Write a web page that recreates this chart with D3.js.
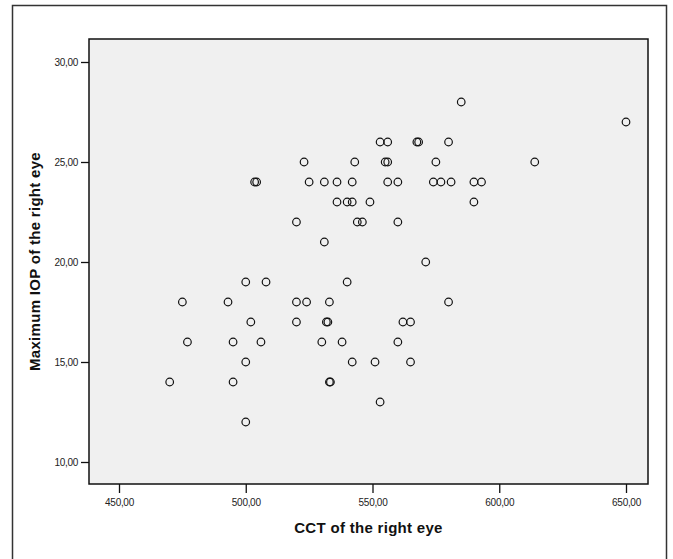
<!DOCTYPE html>
<html>
<head>
<meta charset="utf-8">
<script src="https://cdn.jsdelivr.net/npm/d3@7"></script>
<style>
  body { margin: 0; background: #fff; }
  svg { display: block; }
</style>
</head>
<body>
<svg id="chart" width="673" height="559"></svg>
<script>
// CCT of the right eye (x) and maximum IOP of the right eye (y), one entry per eye
const cctValues = [
  585,
  650,
  553, 556, 567.5, 568.2, 580,
  523, 543, 555, 556, 575, 614,
  503.5, 504.3, 525, 531, 536, 542, 556, 560, 574, 577, 581, 590, 593,
  536, 540, 542, 549, 590,
  520, 544, 546, 560,
  531,
  571,
  500, 508, 540,
  475, 493, 520, 524, 533, 580,
  502, 520, 531.8, 532.4, 562, 565,
  477, 495, 506, 530, 538, 560,
  500, 542, 551, 565,
  470, 495, 533, 533.4,
  553,
  500
];
const iopValues = [
  28,
  27,
  26, 26, 26, 26, 26,
  25, 25, 25, 25, 25, 25,
  24, 24, 24, 24, 24, 24, 24, 24, 24, 24, 24, 24, 24,
  23, 23, 23, 23, 23,
  22, 22, 22, 22,
  21,
  20,
  19, 19, 19,
  18, 18, 18, 18, 18, 18,
  17, 17, 17, 17, 17, 17,
  16, 16, 16, 16, 16, 16,
  15, 15, 15, 15,
  14, 14, 14, 14,
  13,
  12
];
const xTicks = [450, 500, 550, 600, 650];
const yTicks = [10, 15, 20, 25, 30];

const points = cctValues.map((c, i) => ({ cct: c, iop: iopValues[i] }));

const plot = { left: 89, top: 39, right: 648, bottom: 484 };

const svg = d3.select('#chart');

// outer frame
svg.append('rect')
    .attr('x', 12.5)
    .attr('y', 5.5)
    .attr('width', 654)
    .attr('height', 560)
    .attr('fill', 'none')
    .attr('stroke', '#333')
    .attr('stroke-width', 1.5);

let x = d3.scaleLinear().domain([450, 650]).range([119, 626]);
let y = d3.scaleLinear().domain([10, 30]).range([462, 62]);

svg.append('rect')
    .attr('x', plot.left)
    .attr('y', plot.top)
    .attr('width', plot.right - plot.left)
    .attr('height', plot.bottom - plot.top)
    .attr('fill', '#f0f0f0');

const fmt = d => d3.format('.2f')(d).replace('.', ',');

let xAxis = svg.append('g')
    .attr('transform', `translate(0,${plot.bottom})`)
    .call(d3.axisBottom(x).tickValues(xTicks).tickSize(9).tickPadding(6).tickFormat(fmt));

let yAxis = svg.append('g')
    .attr('transform', `translate(${plot.left},0)`)
    .call(d3.axisLeft(y).tickValues(yTicks).tickSize(8).tickPadding(3).tickFormat(fmt));

[xAxis, yAxis].forEach(ax => {
    ax.select('.domain').remove();
    ax.selectAll('.tick line').attr('stroke', '#111').attr('stroke-width', 1.3);
    ax.selectAll('.tick text')
        .attr('fill', '#222')
        .style('font-family', 'Liberation Sans, Arial, sans-serif')
        .style('font-size', '10px')
        .style('letter-spacing', '-0.3px');
});

// plot border on top of the fill
svg.append('rect')
    .attr('x', plot.left)
    .attr('y', plot.top)
    .attr('width', plot.right - plot.left)
    .attr('height', plot.bottom - plot.top)
    .attr('fill', 'none')
    .attr('stroke', '#111')
    .attr('stroke-width', 1.5);

svg.append('g')
    .selectAll('circle')
    .data(points)
    .join('circle')
    .attr('cx', d => x(d.cct))
    .attr('cy', d => y(d.iop))
    .attr('r', 3.8)
    .attr('fill', 'none')
    .attr('stroke', '#111')
    .attr('stroke-width', 1.2);

svg.append('text')
    .attr('x', (plot.left + plot.right) / 2)
    .attr('y', 533)
    .attr('text-anchor', 'middle')
    .style('font-family', 'Liberation Sans, Arial, sans-serif')
    .style('font-size', '15px')
    .style('font-weight', 'bold')
    .style('letter-spacing', '0.3px')
    .attr('fill', '#111')
    .text('CCT of the right eye');

svg.append('text')
    .attr('transform', `translate(40,${(plot.top + plot.bottom) / 2}) rotate(-90)`)
    .attr('text-anchor', 'middle')
    .style('font-family', 'Liberation Sans, Arial, sans-serif')
    .style('font-size', '15px')
    .style('font-weight', 'bold')
    .style('letter-spacing', '0.3px')
    .attr('fill', '#111')
    .text('Maximum IOP of the right eye');
</script>
</body>
</html>
